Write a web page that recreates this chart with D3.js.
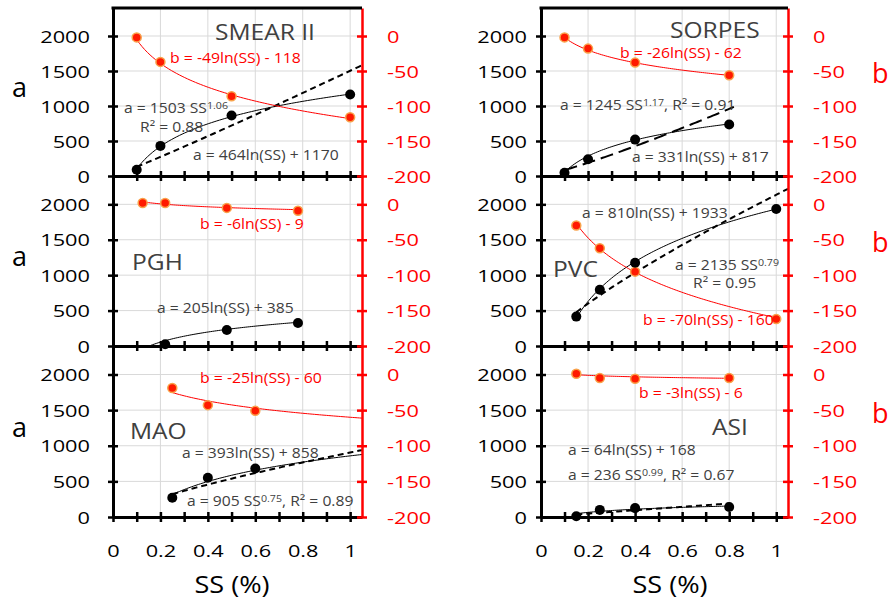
<!DOCTYPE html>
<html>
<head>
<meta charset="utf-8">
<script src="https://cdn.jsdelivr.net/npm/d3@7"></script>
<style>
	body { margin: 0; background: #fff; }
	svg { display: block; }
</style>
</head>
<body>
<svg id="chart"></svg>
<script>
const FONT = "'Open Sans', sans-serif"

// sites, one panel each (left to right, top to bottom)
const sites = ['SMEAR II', 'SORPES', 'PGH', 'PVC', 'MAO', 'ASI']

// black points: a vs SS
const ssA = [[0.1, 0.2, 0.5, 1.0], [0.1, 0.2, 0.4, 0.8], [0.22, 0.48, 0.78], [0.15, 0.25, 0.4, 1.0], [0.25, 0.4, 0.6], [0.15, 0.25, 0.4, 0.8]]
const aVals = [[90, 430, 865, 1165], [45, 240, 520, 735], [25, 225, 325], [415, 795, 1175, 1935], [270, 550, 680], [10, 100, 125, 140]]

// red points: b vs SS
const ssB = [[0.1, 0.2, 0.5, 1.0], [0.1, 0.2, 0.4, 0.8], [0.125, 0.22, 0.48, 0.78], [0.15, 0.25, 0.4, 1.0], [0.25, 0.4, 0.6], [0.15, 0.25, 0.4, 0.8]]
const bVals = [[-2, -37, -86, -116], [-2, -18, -38, -56], [2, 2, -5, -9], [-30, -62, -95, -162], [-19, -43, -51], [1, -5, -6, -5]]

// trendlines as printed on the chart
const logFitA = [[464, 1170], [331, 817], [205, 385], [810, 1933], [393, 858], [64, 168]]
const powFitA = [[1503, 1.06], [1245, 1.17], null, [2135, 0.79], [905, 0.75], [236, 0.99]]
const logFitB = [[-49, -118], [-26, -62], [-6, -9], [-70, -160], [-25, -60], [-3, -6]]
const spanLogA = [[0.1, 1], [0.1, 0.8], [0.125, 0.78], [0.15, 1], [0.25, 1.05], [0.15, 0.8]]
const spanPowA = [[0.1, 1.05], [0.1, 0.82], null, [0.15, 1.05], [0.25, 1.05], [0.15, 0.8]]
const spanLogB = [[0.1, 1], [0.1, 0.8], [0.125, 0.78], [0.15, 1], [0.25, 1.05], [0.15, 0.8]]

const xTicks = [0, 0.1, 0.2, 0.3, 0.4, 0.5, 0.6, 0.7, 0.8, 0.9, 1]
const xLabels = [0, 0.2, 0.4, 0.6, 0.8, 1]
const aTicks = [0, 500, 1000, 1500, 2000]
const bTicks = [-200, -150, -100, -50, 0]

// layout
const W = 893, H = 602
const cols = [{x0: 113, x1: 362, labEnd: 90}, {x0: 541, x1: 788, labEnd: 527}]
const rows = [{top: 8, bottom: 176}, {top: 176, bottom: 346}, {top: 346, bottom: 517}]
const RED = '#ff0000'
const TXT = '#404040'
const dashes = ['6,4', '13,6', null, '6,4', '6,4', '6,4']

// annotations: [x, y, parts, kind]
const notes = [
	[[215, 40, 'SMEAR II', 'title'], [170, 63, 'b = -49ln(SS) - 118', 'red'], [124, 113, [['a = 1503 SS'], ['1.06', 1]], 'eq'], [140, 132, 'R² = 0.88', 'eq'], [193, 160, 'a = 464ln(SS) + 1170', 'eq']],
	[[670, 38, 'SORPES', 'title'], [620, 58, 'b = -26ln(SS) - 62', 'red'], [560, 110, [['a = 1245 SS'], ['1.17', 1], [', R² = 0.91']], 'eq'], [632, 162, 'a = 331ln(SS) + 817', 'eq']],
	[[200, 229, 'b = -6ln(SS) - 9', 'red'], [132, 270, 'PGH', 'title'], [157, 313, 'a = 205ln(SS) + 385', 'eq']],
	[[582, 218, 'a = 810ln(SS) + 1933', 'eq'], [553, 277, 'PVC', 'title'], [675, 270, [['a = 2135 SS'], ['0.79', 1]], 'eq'], [693, 288, 'R² = 0.95', 'eq'], [643, 325, 'b = -70ln(SS) - 160', 'red']],
	[[200, 383, 'b = -25ln(SS) - 60', 'red'], [130, 439, 'MAO', 'title'], [182, 458, 'a = 393ln(SS) + 858', 'eq'], [187, 506, [['a = 905 SS'], ['0.75', 1], [', R² = 0.89']], 'eq']],
	[[639, 398, 'b = -3ln(SS) - 6', 'red'], [712, 435, 'ASI', 'title'], [568, 455, 'a = 64ln(SS) + 168', 'eq'], [568, 480, [['a = 236 SS'], ['0.99', 1], [', R² = 0.67']], 'eq']]
]
const kinds = {
	title: {size: 21, sx: 1.17, fill: TXT},
	red: {size: 14, sx: 1.13, fill: RED},
	eq: {size: 14, sx: 1.12, fill: TXT}
}

const svg = d3.select('#chart').attr('width', W).attr('height', H)
	.attr('font-family', FONT)
const defs = svg.append('defs')
const gridLayer = svg.append('g')
const fitLayer = svg.append('g')
const axisLayer = svg.append('g')
const markLayer = svg.append('g')
const textLayer = svg.append('g')

function label (g, x, y, parts, o) {
	const t = g.append('text')
		.attr('transform', `translate(${x},${y}) scale(${o.sx || 1},1)`)
		.attr('font-size', o.size)
		.attr('fill', o.fill || '#000')
		.attr('text-anchor', o.anchor || 'start')
	const list = Array.isArray(parts) ? parts : [[parts]]
	list.forEach(([s, sup]) => {
		const ts = t.append('tspan').text(s)
		if (sup) ts.attr('font-size', o.size * 0.68).attr('baseline-shift', '40%')
	})
	return t
}

function sample (lo, hi, f) {
	const n = 80
	return d3.range(n + 1).map(i => {
		const v = lo + (hi - lo) * i / n
		return [v, f(v)]
	})
}

sites.forEach((site, i) => {
	const col = cols[i % 2]
	const row = rows[Math.floor(i / 2)]
	const isBottom = Math.floor(i / 2) === 2

	const x = d3.scaleLinear().domain([0, 1.05]).range([col.x0, col.x1])
	const y = d3.scaleLinear().domain([0, 2400]).range([row.bottom, row.top])
	const yb = d3.scaleLinear().domain([-200, 40]).range([row.bottom, row.top])

	// grid
	gridLayer.selectAll(null).data(xLabels.slice(1)).join('line')
		.attr('x1', d => x(d)).attr('x2', d => x(d))
		.attr('y1', row.top).attr('y2', row.bottom)
		.attr('stroke', '#d9d9d9').attr('stroke-width', 1)
	gridLayer.selectAll(null).data(aTicks.slice(1)).join('line')
		.attr('x1', col.x0).attr('x2', col.x1)
		.attr('y1', d => y(d)).attr('y2', d => y(d))
		.attr('stroke', '#d9d9d9').attr('stroke-width', 1)

	// trendlines, clipped to the plot area
	const clipId = `clip${i}`
	defs.append('clipPath').attr('id', clipId).append('rect')
		.attr('x', col.x0).attr('y', row.top)
		.attr('width', col.x1 - col.x0).attr('height', row.bottom - row.top)
	const fits = fitLayer.append('g').attr('clip-path', `url(#${clipId})`)
	const lineA = d3.line().x(d => x(d[0])).y(d => y(d[1]))
	const lineB = d3.line().x(d => x(d[0])).y(d => yb(d[1]))

	const [la, lb] = logFitA[i]
	fits.append('path')
		.attr('d', lineA(sample(spanLogA[i][0], spanLogA[i][1], v => la * Math.log(v) + lb)))
		.attr('fill', 'none').attr('stroke', '#000').attr('stroke-width', 1)
	if (powFitA[i]) {
		const [pa, pb] = powFitA[i]
		fits.append('path')
			.attr('d', lineA(sample(spanPowA[i][0], spanPowA[i][1], v => pa * Math.pow(v, pb))))
			.attr('fill', 'none').attr('stroke', '#000').attr('stroke-width', 2)
			.attr('stroke-dasharray', dashes[i])
	}
	const [ra, rb] = logFitB[i]
	fits.append('path')
		.attr('d', lineB(sample(spanLogB[i][0], spanLogB[i][1], v => ra * Math.log(v) + rb)))
		.attr('fill', 'none').attr('stroke', RED).attr('stroke-width', 1)

	// axes
	const ax = axisLayer.append('g')
		.attr('transform', `translate(0,${row.bottom})`)
		.call(d3.axisBottom(x).tickValues(xTicks).tickSize(5).tickSizeOuter(0)
			.tickFormat(d => isBottom && xLabels.some(v => Math.abs(v - d) < 1e-6) ? d3.format('~g')(d) : ''))
	ax.select('.domain').attr('stroke', '#000').attr('stroke-width', 3)
	ax.selectAll('.tick line').attr('y1', -5).attr('y2', 5).attr('stroke', '#000').attr('stroke-width', 2.5)
	ax.selectAll('.tick text')
		.attr('font-family', FONT).attr('font-size', 17).attr('fill', '#000')
		.attr('y', 0).attr('dy', null)
		.attr('transform', 'translate(0,40) scale(1.28,1)')

	const ay = axisLayer.append('g')
		.attr('transform', `translate(${col.x0},0)`)
		.call(d3.axisLeft(y).tickValues(aTicks).tickSize(5).tickSizeOuter(0).tickFormat(d => String(d)))
	ay.select('.domain').attr('stroke', '#000').attr('stroke-width', 3)
	ay.selectAll('.tick line').attr('x1', -5).attr('x2', 5).attr('stroke', '#000').attr('stroke-width', 2.5)
	ay.selectAll('.tick text')
		.attr('font-family', FONT).attr('font-size', 17).attr('fill', '#000')
		.attr('x', 0).attr('dy', null)
		.attr('transform', `translate(${col.labEnd - col.x0},6) scale(1.28,1)`)

	const ar = axisLayer.append('g')
		.attr('transform', `translate(${col.x1},0)`)
		.call(d3.axisRight(yb).tickValues(bTicks).tickSize(5).tickSizeOuter(0).tickFormat(d => String(d)))
	ar.select('.domain').attr('stroke', RED).attr('stroke-width', 2.5)
	ar.selectAll('.tick line').attr('x1', -5).attr('x2', 5).attr('stroke', RED).attr('stroke-width', 2.5)
	ar.selectAll('.tick text')
		.attr('font-family', FONT).attr('font-size', 17).attr('fill', RED)
		.attr('x', 0).attr('dy', null)
		.attr('transform', 'translate(25,6) scale(1.28,1)')

	if (row.top === rows[0].top) {
		axisLayer.append('line')
			.attr('x1', col.x0 - 1.5).attr('x2', col.x1)
			.attr('y1', row.top).attr('y2', row.top)
			.attr('stroke', '#000').attr('stroke-width', 3)
	}

	// markers
	markLayer.append('g').selectAll('circle')
		.data(d3.zip(ssB[i], bVals[i])).join('circle')
		.attr('cx', d => x(d[0])).attr('cy', d => yb(d[1])).attr('r', 4.5)
		.attr('fill', '#ff1a00').attr('stroke', '#f9a24a').attr('stroke-width', 1.5)
	markLayer.append('g').selectAll('circle')
		.data(d3.zip(ssA[i], aVals[i])).join('circle')
		.attr('cx', d => x(d[0])).attr('cy', d => y(d[1])).attr('r', 5)
		.attr('fill', '#000')

	// side titles
	const mid = (row.top + row.bottom) / 2
	if (i % 2 === 0) label(textLayer, 12, mid + 5, 'a', {size: 27, fill: '#000'})
	else label(textLayer, 872, mid - 9, 'b', {size: 27, fill: RED})

	notes[i].forEach(([nx, ny, parts, kind]) => label(textLayer, nx, ny, parts, kinds[kind]))
})

label(textLayer, 232, 593, 'SS (%)', {size: 24, sx: 1.13, anchor: 'middle'})
label(textLayer, 670, 593, 'SS (%)', {size: 24, sx: 1.13, anchor: 'middle'})
</script>
</body>
</html>
